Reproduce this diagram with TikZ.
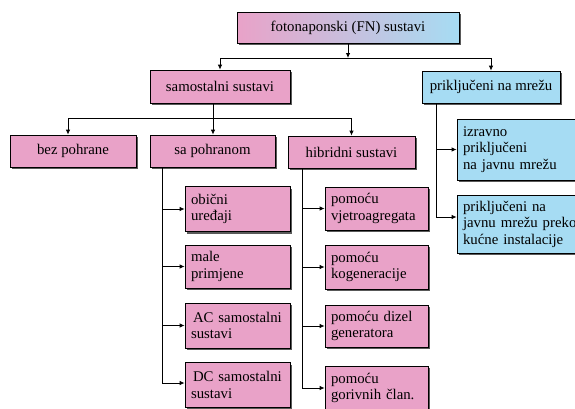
\documentclass[tikz,border=0pt]{standalone}
\usepackage{fontspec}
\setmainfont{Liberation Serif}
\usetikzlibrary{arrows.meta,shadows}
\definecolor{pinkc}{RGB}{233,162,200}
\definecolor{bluec}{RGB}{166,220,243}
\begin{document}
\begin{tikzpicture}[x=1pt,y=-1pt,
  font=\fontsize{14.8}{16.5}\selectfont,
  box/.style={draw=black, line width=0.8pt, inner xsep=0pt, inner ysep=0pt,
    general shadow={fill=black!65, shadow xshift=2pt, shadow yshift=-2pt}},
  pbox/.style={box, fill=pinkc},
  bbox/.style={box, fill=bluec},
  lbox/.style={text width=#1, align=left},
  arr/.style={line width=0.8pt, -{Latex[length=5pt,width=4.5pt]}},
  ln/.style={line width=0.8pt}]
\useasboundingbox (0,0) rectangle (575,408);

% top
\node[box, left color=pinkc, right color=bluec, minimum width=222pt, minimum height=31pt] (top) at (348,27.5) {fotonaponski (FN) sustavi};

% level 1
\node[pbox, minimum width=140pt, minimum height=33pt] (sam) at (220,86.5) {samostalni sustavi};
\node[bbox, minimum width=138pt, minimum height=32pt] (prik) at (491,87) {priključeni na mrežu};

% level 2
\node[pbox, minimum width=126pt, minimum height=32pt] (bez) at (73,151) {bez pohrane};
\node[pbox, minimum width=125pt, minimum height=32pt] (sapoh) at (212.5,151) {sa pohranom};
\node[pbox, minimum width=127pt, minimum height=32pt] (hib) at (351.5,152) {hibridni sustavi};

% grid-connected
\node[bbox, minimum width=132pt, minimum height=61pt, lbox=120pt] (izr) at (523,149.5) {izravno\\priključeni\\na javnu mrežu};
\node[bbox, minimum width=132pt, minimum height=58pt, lbox=120pt] (kuc) at (523,224) {priključeni na\\javnu mrežu preko\\kućne instalacije};

% storage column
\node[pbox, minimum width=105pt, minimum height=45pt, lbox=93pt] (obi) at (237.5,209) {obični\\uređaji};
\node[pbox, minimum width=105pt, minimum height=43pt, lbox=93pt] (male) at (237.5,266.5) {male\\primjene};
\node[pbox, minimum width=105pt, minimum height=45pt, lbox=93pt] (ac) at (237.5,325.5) {\hspace{2pt}AC samostalni\\sustavi};
\node[pbox, minimum width=105pt, minimum height=45pt, lbox=93pt] (dc) at (237.5,385) {\hspace{2pt}DC samostalni\\sustavi};

% hybrid column
\node[pbox, minimum width=103pt, minimum height=43pt, lbox=91pt] (vje) at (376.5,208.5) {pomoću\\vjetroagregata};
\node[pbox, minimum width=103pt, minimum height=44pt, lbox=91pt] (kog) at (376.5,267) {pomoću\\kogeneracije};
\node[pbox, minimum width=103pt, minimum height=42pt, lbox=91pt] (diz) at (376.5,326) {pomoću dizel\\generatora};
\node[pbox, minimum width=103pt, minimum height=44pt, lbox=91pt] (gor) at (376.5,388) {pomoću\\gorivnih član.};

% connectors top
\coordinate (j1) at (348,58);
\draw[arr] (top.south) -- (j1);
\draw[ln] (j1) -- (sam.north |- j1);
\draw[ln] (j1) -- (prik.north |- j1);
\draw[arr] (sam.north |- j1) -- (sam.north);
\draw[arr] (prik.north |- j1) -- (prik.north);

% connectors level 2
\coordinate (j2) at (213,118);
\draw[arr] (sam.south -| j2) -- (j2 |- sapoh.north);
\coordinate (jb) at (68,118);
\draw[ln] (jb) -- (hib.north |- j2);
\draw[arr] (jb) -- (jb |- bez.north);
\draw[arr] (hib.north |- j2) -- (hib.north);

% storage column lines
\coordinate (s0) at (162,167);
\coordinate (s4) at (162,383);
\draw[ln] (s0) -- (s4);
\draw[arr] (s0 |- obi.west) -- (obi.west);
\draw[arr] (s0 |- male.west) -- (male.west);
\draw[arr] (s0 |- ac.west) -- (ac.west);
\draw[arr] (s4) -- (s4 -| dc.west);

% hybrid column lines
\coordinate (h0) at (302,168);
\coordinate (h4) at (302,388);
\draw[ln] (h0) -- (h4);
\draw[arr] (h0 |- vje.west) -- (vje.west);
\draw[arr] (h0 |- kog.west) -- (kog.west);
\draw[arr] (h0 |- diz.west) -- (diz.west);
\draw[arr] (h4) -- (gor.west);

% grid column lines
\coordinate (g0) at (436,103);
\coordinate (g2) at (436,217);
\draw[ln] (g0) -- (g2);
\draw[arr] (g0 |- izr.west) -- (izr.west);
\draw[arr] (g2) -- (g2 -| kuc.west);
\end{tikzpicture}
\end{document}
